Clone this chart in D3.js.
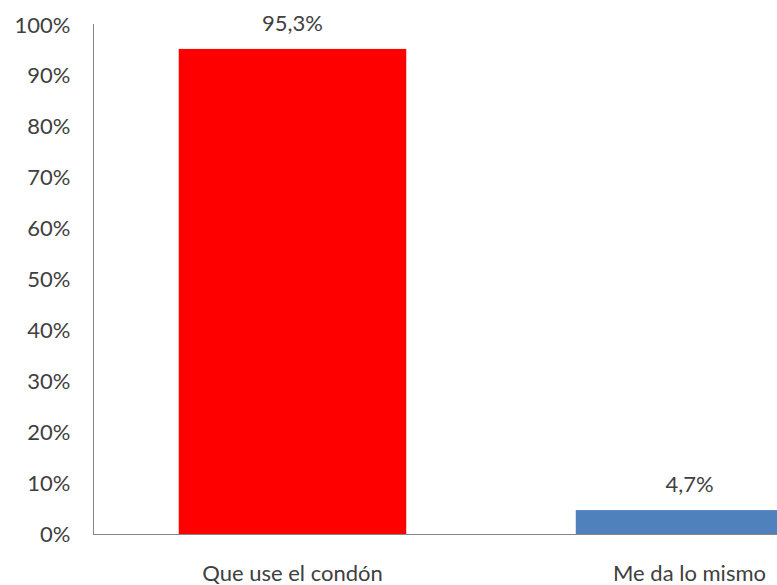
<!DOCTYPE html>
<html><head><meta charset="utf-8">
<script src="https://cdn.jsdelivr.net/npm/d3@7"></script>
<style>body{margin:0;background:#fff}svg{display:block}text{font-family:Lato,"Open Sans",sans-serif;fill:#404040}</style>
</head><body>
<svg id="c" width="777" height="585"></svg>
<script>
const categories = ["Que use el condón", "Me da lo mismo"];
const values = [95.3, 4.7];
const valueLabels = ["95,3%", "4,7%"];
const colors = ["#FF0000", "#4F81BD"];
const yTicks = [0,10,20,30,40,50,60,70,80,90,100];

const FS = "22px";
const svg = d3.select("#c");
const x = d3.scaleBand().domain(categories).range([93, 889]).paddingInner(0.427).paddingOuter(0.216);
const y = d3.scaleLinear().domain([0,100]).range([534, 25]);

// bars
svg.selectAll("rect.bar").data(values).join("rect")
  .attr("x", (d,i)=>x(categories[i]))
  .attr("width", x.bandwidth())
  .attr("y", d=>y(d))
  .attr("height", d=>y(0)-y(d))
  .attr("fill", (d,i)=>colors[i]);

// y axis
const yAxis = d3.axisLeft(y).tickValues(yTicks).tickSize(0).tickPadding(23).tickFormat(d=>d+"%");
const gy = svg.append("g").attr("transform","translate(93.5,0)").call(yAxis);
gy.select(".domain").attr("stroke","#868686").attr("d","M0,24V534.5");
gy.selectAll("text").style("font-size",FS).attr("fill","#404040");

// x axis line
const gx = svg.append("g").attr("transform","translate(0,534.5)")
  .call(d3.axisBottom(x).tickSize(0).tickPadding(31));
gx.select(".domain").attr("stroke","#868686").attr("d","M93,0H777");
gx.selectAll("text").style("font-size",FS).attr("fill","#404040");

// value labels
svg.selectAll("text.val").data(values).join("text")
  .attr("class","val")
  .attr("x",(d,i)=>x(categories[i])+x.bandwidth()/2)
  .attr("y",d=>y(d)-18)
  .attr("text-anchor","middle")
  .style("font-size",FS)
  .text((d,i)=>valueLabels[i]);
</script>
</body></html>
